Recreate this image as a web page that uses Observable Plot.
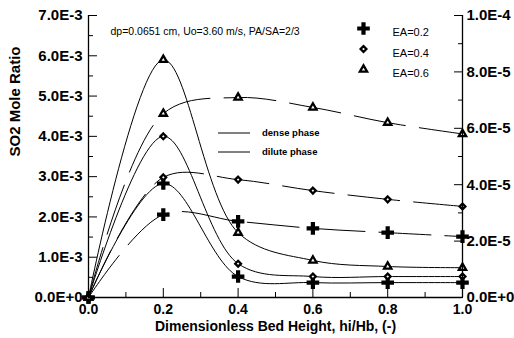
<!DOCTYPE html>
<html><head><meta charset="utf-8">
<script src="https://cdn.jsdelivr.net/npm/d3@7"></script>
<script src="https://cdn.jsdelivr.net/npm/@observablehq/plot@0.6"></script>
<style>body{margin:0;background:#fff}</style>
</head><body><div id="chart"></div>
<script>
const heights = [0, 0.2, 0.4, 0.6, 0.8, 1.0];
const seriesNames = ["EA=0.2", "EA=0.4", "EA=0.6"];
// dense phase (left axis)
const dense02 = [0, 2.83e-3, 0.52e-3, 0.37e-3, 0.37e-3, 0.37e-3];
const dense04 = [0, 4.0e-3, 0.84e-3, 0.52e-3, 0.52e-3, 0.52e-3];
const dense06 = [0, 5.9e-3, 1.61e-3, 0.92e-3, 0.77e-3, 0.74e-3];
// dilute phase (right axis)
const dilute02 = [0, 2.94e-5, 2.70e-5, 2.45e-5, 2.30e-5, 2.16e-5];
const dilute04 = [0, 4.26e-5, 4.18e-5, 3.79e-5, 3.48e-5, 3.23e-5];
const dilute06 = [0, 6.52e-5, 7.09e-5, 6.74e-5, 6.20e-5, 5.80e-5];
const leftTicks = [0, 1e-3, 2e-3, 3e-3, 4e-3, 5e-3, 6e-3, 7e-3];
const leftMinor = [0.5e-3, 1.5e-3, 2.5e-3, 3.5e-3, 4.5e-3, 5.5e-3, 6.5e-3];
const rightTicks = [0, 2e-5, 4e-5, 6e-5, 8e-5, 1e-4];
const rightMinor = [1e-5, 3e-5, 5e-5, 7e-5, 9e-5];
const xTicks = [0, 0.2, 0.4, 0.6, 0.8, 1.0];
const xMinor = [0.1, 0.3, 0.5, 0.7, 0.9];
const symbols = ["cross", "diamond2", "triangle"];
const annotation = "dp=0.0651 cm, Uo=3.60 m/s, PA/SA=2/3";
const phaseNames = ["dense phase", "dilute phase"];

const ratio = 7e-3 / 1e-4; // right axis mapped to left scale
const denseSets = [dense02, dense04, dense06];
const diluteSets = [dilute02, dilute04, dilute06];
const dense = [], dilute = [];
seriesNames.forEach((s, i) => {
  heights.forEach((h, j) => {
    dense.push({s, sym: symbols[i], x: h, y: denseSets[i][j]});
    dilute.push({s, sym: symbols[i], x: h, y: diluteSets[i][j] * ratio});
  });
});
const fmt = d => d.toExponential(1).toUpperCase();
const font = "Liberation Sans, Arial, sans-serif";

const dotOpts = (sym) => ({
  r: sym === "cross" ? 5.3 : sym === "triangle" ? 2.7 : 2.6,
  fill: sym === "cross" ? "black" : "white",
  stroke: "black",
  strokeWidth: sym === "cross" ? 0 : 2.3
});

const marks = [];
// curves
marks.push(Plot.line(dense, {x: "x", y: "y", z: "s", curve: "catmull-rom", stroke: "black", strokeWidth: 1}));
marks.push(Plot.line(dilute, {x: "x", y: "y", z: "s", curve: "catmull-rom", stroke: "black", strokeWidth: 1, strokeDasharray: "52,14"}));
// markers
symbols.forEach(sym => {
  marks.push(Plot.dot(dense.filter(d => d.sym === sym), {x: "x", y: "y", symbol: () => sym, ...dotOpts(sym)}));
  marks.push(Plot.dot(dilute.filter(d => d.sym === sym), {x: "x", y: "y", symbol: () => sym, ...dotOpts(sym)}));
});
// axes lines
marks.push(Plot.ruleX([0, 1], {stroke: "black", strokeWidth: 1.3}));
marks.push(Plot.ruleY([0], {stroke: "black", strokeWidth: 1.3}));
// left axis
marks.push(Plot.axisY(leftTicks, {anchor: "left", label: null, tickSize: -9, tickPadding: 15, tickFormat: fmt, fontSize: 15, fontWeight: "bold", fill: "black"}));
marks.push(Plot.axisY(leftMinor, {anchor: "left", label: null, tickSize: -5, tickFormat: () => ""}));
// right axis
marks.push(Plot.axisY(rightTicks.map(v => v * ratio), {anchor: "right", label: null, tickSize: -9, tickPadding: 13, tickFormat: d => fmt(d / ratio), fontSize: 15, fontWeight: "bold", fill: "black"}));
marks.push(Plot.axisY(rightMinor.map(v => v * ratio), {anchor: "right", label: null, tickSize: -5, tickFormat: () => ""}));
// x axis
marks.push(Plot.axisX(xTicks, {anchor: "bottom", label: null, tickSize: -9, tickPadding: 16, tickFormat: d => d.toFixed(1), fontSize: 14, fontWeight: "bold", fill: "black"}));
marks.push(Plot.axisX(xMinor, {anchor: "bottom", label: null, tickSize: -5, tickFormat: () => ""}));
// titles
marks.push(Plot.text(["Dimensionless Bed Height, hi/Hb, (-)"], {frameAnchor: "bottom", dy: 33, fontSize: 14, fontWeight: "bold"}));
marks.push(Plot.text(["SO2 Mole Ratio"], {frameAnchor: "left", dx: -73, rotate: -90, fontSize: 15, fontWeight: "bold"}));
marks.push(Plot.text([annotation], {frameAnchor: "top-left", dx: 22, dy: 12, textAnchor: "start", fontSize: 10.5}));
// symbol legend
seriesNames.forEach((s, i) => {
  const dy = 13 + i * 20.5;
  marks.push(Plot.dot([s], {frameAnchor: "top-left", dx: 275, dy, symbol: () => symbols[i], ...dotOpts(symbols[i])}));
  marks.push(Plot.text([s], {frameAnchor: "top-left", dx: 304, dy, textAnchor: "start", fontSize: 11}));
});
// phase legend
marks.push((index, scales, values, dims) => {
  const g = d3.create("svg:g");
  phaseNames.forEach((p, i) => {
    const y = dims.marginTop + 118 + i * 19;
    g.append("line").attr("x1", dims.marginLeft + 130).attr("x2", dims.marginLeft + 162)
      .attr("y1", y).attr("y2", y).attr("stroke", "black").attr("stroke-width", 1);
    g.append("text").attr("x", dims.marginLeft + 174).attr("y", y).attr("dy", "0.35em")
      .attr("text-anchor", "start")
      .attr("font-size", 9.5).attr("font-weight", "bold").attr("font-family", font).text(p);
  });
  return g.node();
});

const chart = Plot.plot({
  width: 514, height: 338,
  marginLeft: 88, marginRight: 52, marginTop: 15, marginBottom: 41,
  x: {domain: [0, 1], axis: null},
  y: {domain: [0, 7e-3], axis: null},
  style: {fontFamily: font, background: "white", color: "black"},
  marks
});
document.getElementById("chart").appendChild(chart);
</script>
</body></html>
